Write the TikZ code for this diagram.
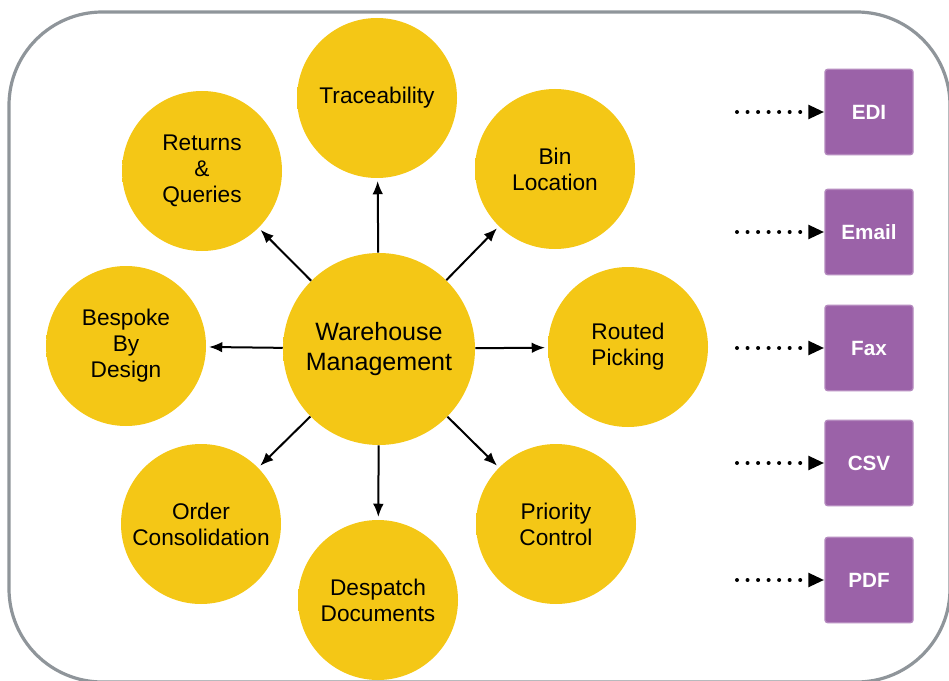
\documentclass[tikz,border=0pt]{standalone}
\usepackage{fontspec}
\setmainfont{Liberation Sans}
\usepackage{xcolor}
\usetikzlibrary{arrows.meta}

\definecolor{wmyellow}{RGB}{244,199,22}
\definecolor{wmrim}{RGB}{226,174,22}
\definecolor{wmpurple}{RGB}{155,98,168}
\definecolor{wmgrey}{RGB}{143,149,154}

\pgfdeclareradialshading{wmball}{\pgfpoint{0bp}{0bp}}{color(0bp)=(wmyellow); color(41bp)=(wmyellow); color(48bp)=(wmrim); color(50bp)=(wmrim)}

\tikzset{
  topic/.style={circle, minimum size=120pt, inner sep=0pt, align=center,
    shading=wmball, font=\fontsize{17}{19.5}\selectfont},
  hub/.style={topic, minimum size=144pt, font=\fontsize{18.8}{22}\selectfont},
  format/.style={rounded corners=2pt, fill=wmpurple, draw=wmpurple!75!white, line width=1pt,
    minimum width=66pt, minimum height=64pt, text=white, font=\bfseries\fontsize{15.5}{18}\selectfont},
  link/.style={line width=1.5pt, -{Latex[length=10pt,width=8pt]}, shorten >=2pt},
  feed/.style={line width=3pt, line cap=round, dash pattern=on 0pt off 7.9pt,
    -{Triangle[length=12pt,width=10pt,line cap=butt]}}
}

\begin{document}
\begin{tikzpicture}[x=0.75pt,y=0.75pt,yscale=-1,xscale=1]

\useasboundingbox (0,0) rectangle (949,681);
\clip (0,0) rectangle (949,681);

\draw [wmgrey, line width=2.4pt, rounded corners=70pt] (9,12) rectangle (950,682);

\node (wm) at (379,349) [hub] {Warehouse\\Management};
\node (trace) at (377,98) [topic] {Traceability};
\node (bin) at (555,169) [topic] {Bin\\Location};
\node (routed) at (628,347) [topic] {Routed\\Picking};
\node (priority) at (556,524) [topic] {Priority\\Control};
\node (despatch) at (378,600) [topic] {Despatch\\Documents};
\node (order) at (201,524) [topic] {Order\\Consolidation};
\node (bespoke) at (126,346) [topic] {Bespoke\\By\\Design};
\node (returns) at (202,171) [topic] {Returns\\\&\\Queries};

\draw [link] (wm) -- (trace);
\draw [link] (wm) -- (bin);
\draw [link] (wm) -- (routed);
\draw [link] (wm) -- (priority);
\draw [link] (wm) -- (despatch);
\draw [link] (wm) -- (order);
\draw [link] (wm) -- (bespoke);
\draw [link] (wm) -- (returns);

\node (edi) at (869,112) [format] {EDI};
\node (email) at (869,232) [format] {Email};
\node (fax) at (869,348) [format] {Fax};
\node (csv) at (869,463) [format] {CSV};
\node (pdf) at (869,580) [format] {PDF};

\coordinate (ediin) at (737,112);
\coordinate (emailin) at (737,232);
\coordinate (faxin) at (737,348);
\coordinate (csvin) at (737,463);
\coordinate (pdfin) at (737,580);

\draw [feed] (ediin) -- (edi);
\draw [feed] (emailin) -- (email);
\draw [feed] (faxin) -- (fax);
\draw [feed] (csvin) -- (csv);
\draw [feed] (pdfin) -- (pdf);

\end{tikzpicture}
\end{document}
